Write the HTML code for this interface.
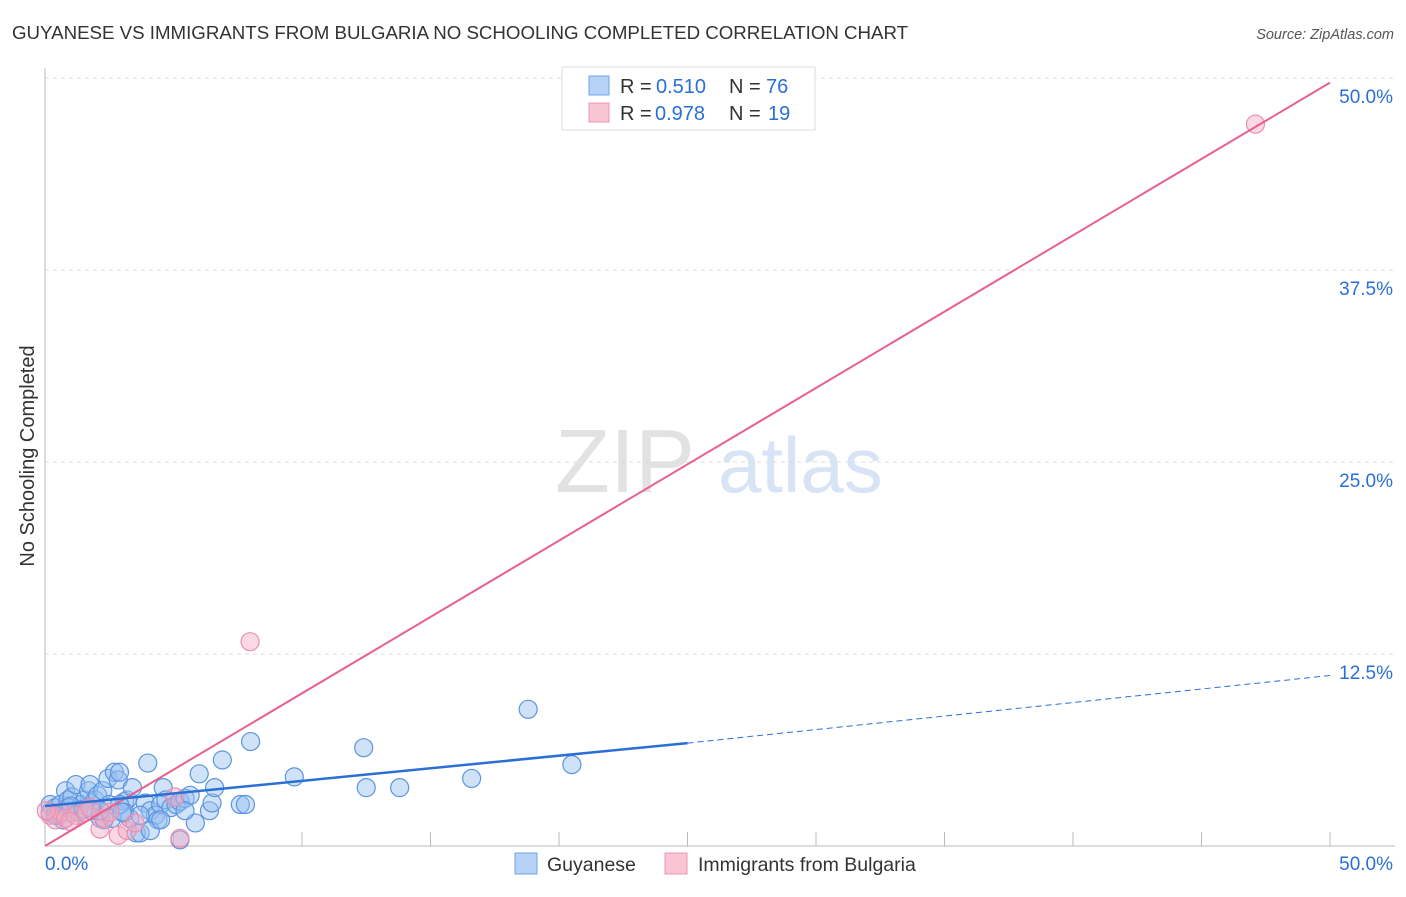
<!DOCTYPE html>
<html><head><meta charset="utf-8"><style>
body{margin:0;background:#fff;font-family:"Liberation Sans",sans-serif;}
svg text{font-family:"Liberation Sans",sans-serif;}
</style></head><body>
<svg id="c" width="1406" height="892">
<text x="12" y="39" font-size="18.7" fill="#333">GUYANESE VS IMMIGRANTS FROM BULGARIA NO SCHOOLING COMPLETED CORRELATION CHART</text>
<text x="1394" y="39" font-size="14.5" fill="#555" font-style="italic" text-anchor="end">Source: ZipAtlas.com</text>
<text x="34" y="456" font-size="20" fill="#333" transform="rotate(-90 34 456)" text-anchor="middle">No Schooling Completed</text>
<text x="555" y="492" font-size="90" fill="#e2e2e2" font-family="Liberation Serif">ZIP</text>
<text x="718" y="492" font-size="78" fill="#d6e4f5">atlas</text>
<g id="grid"></g><g id="marks"></g>
<g>
<rect x="562" y="67" width="253" height="63" fill="#fff" stroke="#ddd"/>
<rect x="589" y="76" width="20" height="19" fill="#b6d3f7" stroke="#6fa3e6"/>
<rect x="589" y="103" width="20" height="19" fill="#f9c5d5" stroke="#ee94b0"/>
<text x="620" y="93" font-size="20" fill="#333">R =</text><text x="656" y="93" font-size="20" fill="#2a6fd6">0.510</text>
<text x="729" y="93" font-size="20" fill="#333">N =</text><text x="766" y="93" font-size="20" fill="#2a6fd6">76</text>
<text x="620" y="120" font-size="20" fill="#333">R =</text><text x="655" y="120" font-size="20" fill="#2a6fd6">0.978</text>
<text x="729" y="120" font-size="20" fill="#333">N =</text><text x="768" y="120" font-size="20" fill="#2a6fd6">19</text>
</g>
<g>
<rect x="515" y="853" width="22" height="21" fill="#b6d3f7" stroke="#6fa3e6"/>
<text x="547" y="871" font-size="19.5" fill="#333">Guyanese</text>
<rect x="665" y="853" width="22" height="21" fill="#f9c5d5" stroke="#ee94b0"/>
<text x="698" y="871" font-size="19.5" fill="#333">Immigrants from Bulgaria</text>
</g>
</svg>
<script>
const yTicks=[12.5,25,37.5,50];
const yTickLabels=["12.5%","25.0%","37.5%","50.0%"];
const xTickLabels=["0.0%","50.0%"];
const blueX=[0.2,0.4,0.6,0.8,0.9,1.05,1.2,1.4,1.55,1.7,1.75,1.95,2.05,2.15,2.25,2.45,2.5,2.7,2.85,2.9,3.1,3.2,3.3,3.4,3.55,3.7,3.9,4.0,4.1,4.3,4.4,4.5,4.6,4.7,4.9,5.1,5.25,5.45,5.65,5.85,6.0,6.4,6.5,6.6,6.9,7.6,7.8,8.0,9.7,12.4,12.5,13.8,16.6,18.8,20.5,0.2,0.5,0.7,0.97,1.3,1.8,2.3,2.6,3.1,3.7,4.1,4.5,5.45,2.15,2.9,0.9,0.4,5.25,1.0,1.5,3.0];
const blueY=[2.7,2.5,2.7,3.6,3.0,3.2,4.0,2.7,3.0,3.6,4.0,3.0,3.3,1.8,3.6,4.4,2.7,4.8,4.3,4.8,2.9,3.0,1.8,3.8,0.85,0.85,2.8,5.4,2.3,2.0,1.7,2.7,3.8,3.0,2.5,2.7,2.9,3.1,3.3,1.5,4.7,2.3,2.8,3.8,5.6,2.7,2.7,6.8,4.5,6.4,3.8,3.8,4.4,8.9,5.3,2.2,2.0,1.7,2.2,2.2,2.3,1.7,1.8,2.2,2.0,1.0,1.7,2.3,2.3,2.7,2.5,2.0,0.4,2.6,2.4,2.2];
const pinkX=[0.2,0.4,0.6,0.8,1.2,1.6,2.14,2.3,2.85,3.2,3.5,5.05,5.25,7.98,47.1,0.05,0.97,1.75,2.53];
const pinkY=[2.0,1.7,2.2,1.8,2.0,2.2,1.1,1.8,0.7,1.0,1.5,3.2,0.5,13.3,47.0,2.3,1.6,2.5,2.2];
const blueLine=[2.6,6.7,11.1]; // at x=0,25,50
const pinkLine=[0,49.7];
const sx=v=>45+v*25.7, sy=v=>846-v*15.36;
const NS="http://www.w3.org/2000/svg";
function mk(t,a,p){const e=document.createElementNS(NS,t);for(const k in a)e.setAttribute(k,a[k]);p.appendChild(e);return e;}
const g=document.getElementById('grid'), m=document.getElementById('marks');
let ax=mk('line',{x1:45,y1:68,x2:45,y2:846,stroke:'#bbb'},g);


let bx=mk('line',{x1:45,y1:846,x2:1395,y2:846,stroke:'#bbb'},g);


yTicks.forEach((t,i)=>{
 const l=mk('line',{x1:45,y1:sy(t),x2:1395,y2:sy(t),stroke:'#ddd','stroke-dasharray':'4,4'},g);
 
 
 const tx=mk('text',{x:1393,y:sy(t)+25,'font-size':19,fill:'#2a6fd6','text-anchor':'end'},g);tx.textContent=yTickLabels[i];
 
 
});
for(let i=0;i<=10;i++){const x=sx(i*5);const l=mk('line',{x1:x,y1:832,x2:x,y2:846,stroke:'#bbb'},g);
 
 }
[[0,45,'start'],[1,1393,'end']].forEach(([i,x,a])=>{const t=mk('text',{x:x,y:870,'font-size':19,fill:'#2a6fd6','text-anchor':a},g);t.textContent=xTickLabels[i];
 
 });
blueX.forEach((x,i)=>{const c=mk('circle',{cx:sx(x),cy:sy(blueY[i]),r:9,fill:'rgba(150,190,240,0.45)',stroke:'#5b95e0','stroke-width':1.2},m);
 
 });
pinkX.forEach((x,i)=>{const c=mk('circle',{cx:sx(x),cy:sy(pinkY[i]),r:9,fill:'rgba(245,170,195,0.45)',stroke:'#ec8fae','stroke-width':1.2},m);
 
 });
let pl=mk('line',{x1:sx(0),y1:sy(pinkLine[0]),x2:sx(50),y2:sy(pinkLine[1]),stroke:'#e8608c','stroke-width':2},m);


let bl=mk('line',{x1:sx(0),y1:sy(blueLine[0]),x2:sx(25),y2:sy(blueLine[1]),stroke:'#2a6fd6','stroke-width':2.5},m);


let bd=mk('line',{x1:sx(25),y1:sy(blueLine[1]),x2:sx(50),y2:sy(blueLine[2]),stroke:'#2a6fd6','stroke-width':1,'stroke-dasharray':'6,4'},m);


</script>
</body></html>
